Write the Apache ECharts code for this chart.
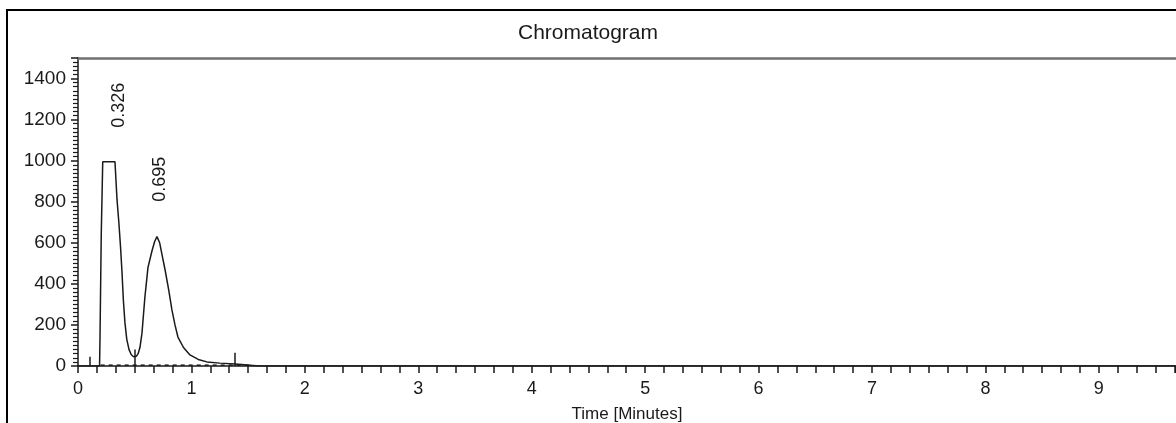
<!DOCTYPE html>
<html>
<head>
<meta charset="utf-8">
<script src="https://cdn.jsdelivr.net/npm/echarts@6/dist/echarts.min.js"></script>
<style>
  html, body { margin: 0; padding: 0; background: #fff; }
  #chart { width: 1176px; height: 423px; }
</style>
</head>
<body>
<div id="chart"></div>
<script>
// detector signal (time in minutes)
var timeMin = [0, 0.19, 0.192, 0.194, 0.205, 0.218, 0.326, 0.335, 0.344, 0.36, 0.375, 0.388, 0.40, 0.414,
  0.43, 0.45, 0.47, 0.49, 0.502, 0.515, 0.53, 0.546, 0.564, 0.59, 0.617, 0.652, 0.675, 0.696, 0.72,
  0.745, 0.767, 0.80, 0.828, 0.855, 0.881, 0.93, 0.987, 1.06, 1.137, 1.25, 1.383, 1.47, 1.542, 1.6, 9.7]
var signal = [0, 0, 0, 140, 640, 995, 995, 990, 810, 700, 580, 455, 320, 210,
  130, 80, 55, 45, 44, 48, 60, 90, 160, 337, 480, 560, 605, 630, 600,
  530, 470, 370, 273, 200, 141, 90, 54, 32, 20, 14, 10, 6, 3, 0, 0]

// peak retention times and where their labels sit
var peakNames = ['0.326', '0.695']
var peakLabelTime = [0.365, 0.72]
var peakLabelLevel = [1160, 800]

// integration event marks [time, height]
var eventTime = [0.106, 0.502, 1.383]
var eventHeight = [45, 80, 65]

// dashed baseline ends
var baseTime = [0.2, 1.52]
var baseLevel = [4, 4]

var yTicks = [0, 200, 400, 600, 800, 1000, 1200, 1400]

var chart = echarts.init(document.getElementById('chart'))

var trace = timeMin.map(function (t, i) { return [t, signal[i]] })
var baseline = baseTime.map(function (t, i) { return [t, baseLevel[i]] })
var events = eventTime.map(function (t, i) {
  return [{ coord: [t, 0] }, { coord: [t, eventHeight[i]] }]
})
var labels = peakNames.map(function (n, i) {
  return { coord: [peakLabelTime[i], peakLabelLevel[i]], value: n }
})

var font = 'Liberation Sans'
var ink = '#1a1a1a'

var option = {
  animation: false,
  title: {
    text: 'Chromatogram',
    left: 'center',
    top: 18,
    textStyle: { fontFamily: font, fontSize: 21, fontWeight: 'normal', color: ink }
  },
  graphic: [
    {
      type: 'rect',
      shape: { x: 7, y: 10, width: 1250, height: 500 },
      style: { fill: 'none', stroke: '#000', lineWidth: 2 },
      silent: true
    }
  ],
  grid: {
    left: 78,
    top: 58,
    right: 0,
    bottom: 57,
    containLabel: false,
    outerBoundsMode: 'none'
  },
  xAxis: [
    {
      type: 'value',
      min: 0,
      max: 9.68,
      interval: 1,
      name: 'Time [Minutes]',
      nameLocation: 'middle',
      nameGap: 40,
      nameTextStyle: { fontFamily: font, fontSize: 17, color: ink },
      axisLine: { lineStyle: { color: ink, width: 1.5 } },
      axisTick: { show: true, length: 7, lineStyle: { color: ink, width: 1.5 } },
      minorTick: { show: true, splitNumber: 6, length: 7, lineStyle: { color: ink, width: 1.5 } },
      axisLabel: { fontFamily: font, fontSize: 18, color: ink, margin: 14, showMaxLabel: false },
      splitLine: { show: false }
    },
    {
      type: 'value',
      position: 'top',
      min: 0,
      max: 9.68,
      axisLine: { show: true, lineStyle: { color: '#707070', width: 2.5 } },
      axisTick: { show: false },
      axisLabel: { show: false },
      splitLine: { show: false }
    }
  ],
  yAxis: {
    type: 'value',
    min: 0,
    max: 1500,
    interval: 200,
    axisLine: { show: true, lineStyle: { color: ink, width: 1.5 } },
    axisTick: { show: true, length: 7, lineStyle: { color: ink, width: 1.5 } },
    minorTick: { show: true, splitNumber: 10, length: 5, lineStyle: { color: ink, width: 1.2 } },
    axisLabel: {
      fontFamily: font,
      fontSize: 19,
      color: ink,
      margin: 12,
      formatter: function (v) { return yTicks.indexOf(v) >= 0 ? String(v) : '' }
    },
    splitLine: { show: false }
  },
  series: [
    {
      name: 'signal',
      type: 'line',
      data: trace,
      showSymbol: false,
      lineStyle: { color: ink, width: 1.5 },
      markLine: {
        silent: true,
        symbol: 'none',
        label: { show: false },
        lineStyle: { color: ink, type: 'solid', width: 1.5 },
        data: events
      },
      markPoint: {
        silent: true,
        symbol: 'circle',
        symbolSize: 0,
        label: {
          show: true,
          rotate: 90,
          position: 'inside',
          align: 'left',
          verticalAlign: 'middle',
          fontFamily: font,
          fontSize: 18,
          color: ink,
          formatter: function (p) { return p.value }
        },
        data: labels
      }
    },
    {
      name: 'baseline',
      type: 'line',
      data: baseline,
      showSymbol: false,
      lineStyle: { color: ink, width: 1.5, type: [4, 4] }
    }
  ]
}

option && chart.setOption(option)
</script>
</body>
</html>
